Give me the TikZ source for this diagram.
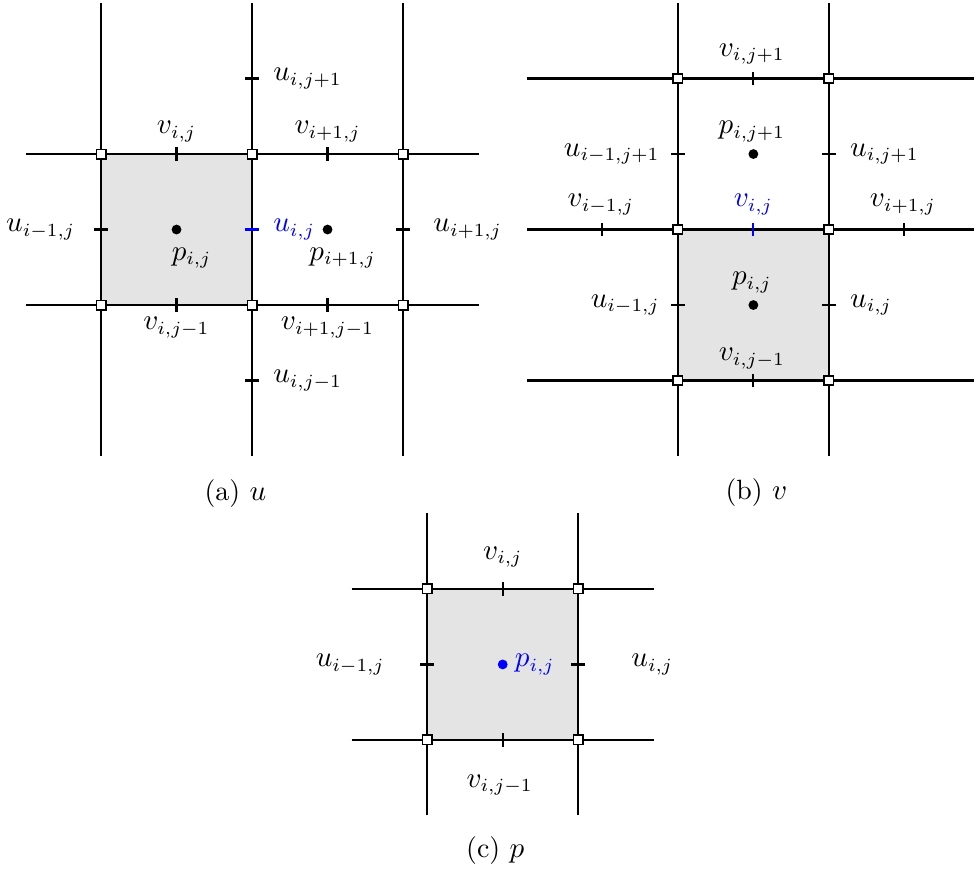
\documentclass[tikz,border=0pt]{standalone}
\usepackage{amsmath}
\usepackage{tikz}
\definecolor{cellG}{RGB}{228,228,228}
\definecolor{figBl}{RGB}{0,0,255}
\tikzset{
  gridln/.style={thick},
  tickln/.style={thick},
  vtx/.style={rectangle, draw, semithick, fill=white, inner sep=0pt, minimum size=0.125cm},
  pdot/.style={circle, fill, inner sep=0pt, minimum size=3.7pt},
  lab/.style={font=\fontsize{10.5}{12}\selectfont, inner sep=1pt},
  captxt/.style={font=\rmfamily\fontsize{10.5}{12}\selectfont}
}

\begin{document}
\begin{tikzpicture}[x=2cm, y=2cm]
\useasboundingbox (-0.669,-3.762) rectangle (5.781,2.020);
% ======== (a): u-cell ========
\begin{scope}
\fill[cellG] (0,0) rectangle (1,1);
\foreach \x in {0,1,2} \draw[gridln] (\x,-1) -- (\x,2);
\foreach \y in {0,1} \draw[gridln] (-0.5,\y) -- (2.5,\y);
% u ticks (horizontal), v ticks (vertical)
\foreach \x/\y in {0/0.5, 1/1.5, 1/-0.5, 2/0.5} \draw[tickln] (\x-0.046,\y) -- (\x+0.046,\y);
\draw[tickln, figBl] (0.954,0.5) -- (1.046,0.5);
\foreach \x/\y in {0.5/1, 1.5/1, 0.5/0, 1.5/0} \draw[tickln] (\x,\y-0.046) -- (\x,\y+0.046);
% corners
\foreach \x/\y [count=\k] in {0/0, 1/0, 2/0, 0/1, 1/1, 2/1} \node[vtx] (a-c\k) at (\x,\y) {};
\node[pdot] (a-p1) at (0.5,0.5) {};
\node[pdot] (a-p2) at (1.5,0.5) {};
% labels
\node[lab, anchor=west] (a-ujp) at (1.12,1.5) {$u_{i,j+1}$};
\node[lab] (a-vij) at (0.5,1.15) {$v_{i,j}$};
\node[lab] (a-vipj) at (1.5,1.15) {$v_{i+1,j}$};
\node[lab] (a-uimj) at (-0.40,0.5) {$u_{i-1,j}$};
\node[lab, anchor=west, text=figBl] (a-uij) at (1.12,0.5) {$u_{i,j}$};
\node[lab, anchor=west] (a-uipj) at (2.18,0.5) {$u_{i+1,j}$};
\node[lab] (a-pij) at (0.6,0.31) {$p_{i,j}$};
\node[lab] (a-pipj) at (1.6,0.31) {$p_{i+1,j}$};
\node[lab] (a-vijm) at (0.5,-0.15) {$v_{i,j-1}$};
\node[lab] (a-vipjm) at (1.5,-0.15) {$v_{i+1,j-1}$};
\node[lab, anchor=west] (a-ujm) at (1.12,-0.5) {$u_{i,j-1}$};
\node[captxt] (a-cap) at (0.89,-1.245) {(a) $u$};
\end{scope}
% ======== (b): v-cell ========
\begin{scope}[shift={(3.82,-0.5)}]
\fill[cellG] (0,0) rectangle (1,1);
\foreach \x in {0,1} \draw[gridln] (\x,-0.5) -- (\x,2.5);
\foreach \y in {0,1,2} \draw[gridln] (-1,\y) -- (2,\y);
\foreach \x/\y in {0/0.5, 1/0.5, 0/1.5, 1/1.5} \draw[tickln] (\x-0.046,\y) -- (\x+0.046,\y);
\foreach \x/\y in {-0.5/1, 1.5/1, 0.5/0, 0.5/2} \draw[tickln] (\x,\y-0.046) -- (\x,\y+0.046);
\draw[tickln, figBl] (0.5,0.954) -- (0.5,1.046);
\foreach \x/\y [count=\k] in {0/0, 1/0, 0/1, 1/1, 0/2, 1/2} \node[vtx] (b-c\k) at (\x,\y) {};
\node[pdot] (b-p1) at (0.5,0.5) {};
\node[pdot] (b-p2) at (0.5,1.5) {};
\node[lab] (b-vjp) at (0.49,2.16) {$v_{i,j+1}$};
\node[lab] (b-pjp) at (0.49,1.65) {$p_{i,j+1}$};
\node[lab, anchor=east] (b-uimjp) at (-0.1,1.5) {$u_{i-1,j+1}$};
\node[lab, anchor=west] (b-ujp) at (1.12,1.5) {$u_{i,j+1}$};
\node[lab] (b-vimj) at (-0.51,1.166) {$v_{i-1,j}$};
\node[lab, text=figBl] (b-vij) at (0.5,1.166) {$v_{i,j}$};
\node[lab] (b-vipj) at (1.49,1.166) {$v_{i+1,j}$};
\node[lab] (b-pij) at (0.49,0.65) {$p_{i,j}$};
\node[lab, anchor=east] (b-uimj) at (-0.1,0.5) {$u_{i-1,j}$};
\node[lab, anchor=west] (b-uij) at (1.12,0.5) {$u_{i,j}$};
\node[lab] (b-vjm) at (0.49,0.146) {$v_{i,j-1}$};
\node[captxt] (b-cap) at (0.52,-0.74) {(b) $v$};
\end{scope}
% ======== (c): p-cell ========
\begin{scope}[shift={(2.16,-2.88)}]
\fill[cellG] (0,0) rectangle (1,1);
\foreach \x in {0,1} \draw[gridln] (\x,-0.5) -- (\x,1.5);
\foreach \y in {0,1} \draw[gridln] (-0.5,\y) -- (1.5,\y);
\foreach \x in {0,1} \draw[tickln] (\x-0.046,0.5) -- (\x+0.046,0.5);
\foreach \y in {0,1} \draw[tickln] (0.5,\y-0.046) -- (0.5,\y+0.046);
\foreach \x/\y [count=\k] in {0/0, 1/0, 0/1, 1/1} \node[vtx] (c-c\k) at (\x,\y) {};
\node[pdot, figBl] (c-p) at (0.5,0.5) {};
\node[lab] (c-vij) at (0.5,1.21) {$v_{i,j}$};
\node[lab] (c-uimj) at (-0.51,0.5) {$u_{i-1,j}$};
\node[lab, anchor=west, text=figBl] (c-pij) at (0.56,0.5) {$p_{i,j}$};
\node[lab] (c-uij) at (1.49,0.5) {$u_{i,j}$};
\node[lab] (c-vjm) at (0.48,-0.30) {$v_{i,j-1}$};
\node[captxt] (c-cap) at (0.45,-0.73) {(c) $p$};
\end{scope}
\end{tikzpicture}
\end{document}
